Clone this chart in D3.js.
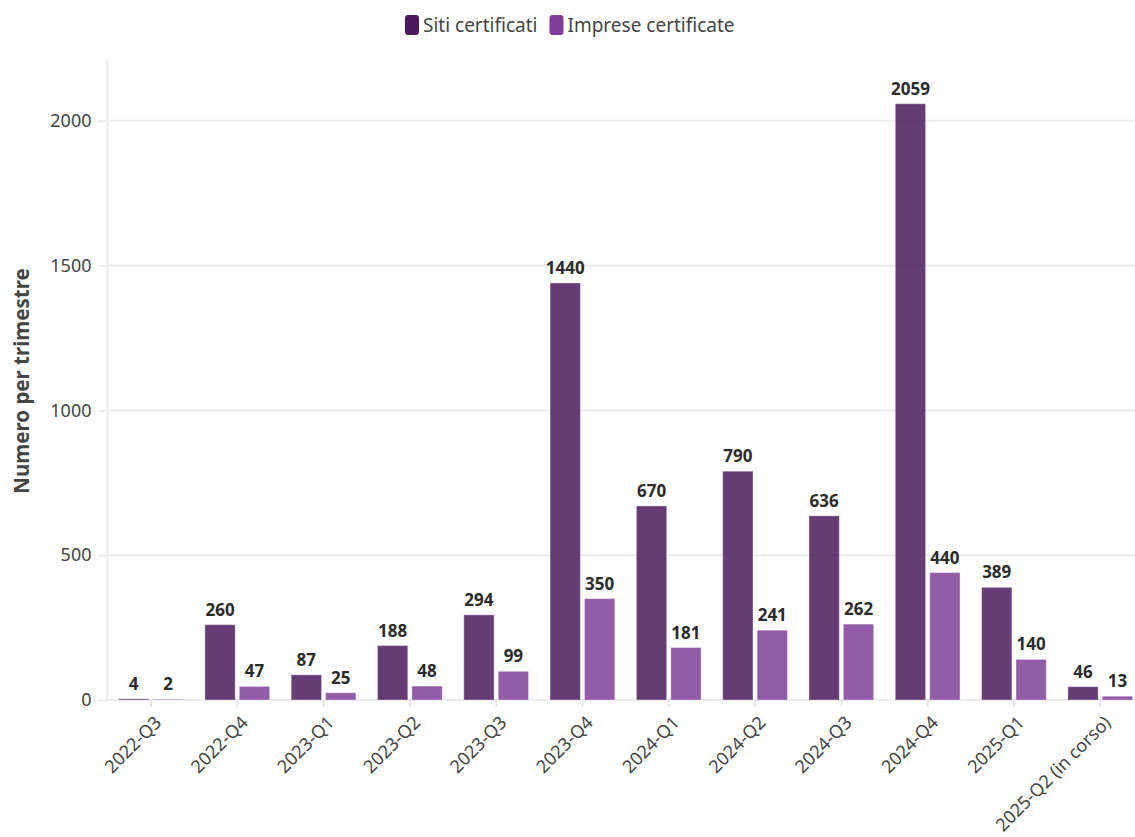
<!DOCTYPE html>
<html>
<head>
<meta charset="utf-8">
<script src="https://cdn.jsdelivr.net/npm/d3@7"></script>
<style>
  html, body { margin: 0; padding: 0; background: #fff; }
  svg { display: block; font-family: "Noto Sans", sans-serif; }
</style>
</head>
<body>
<svg id="chart" width="1135" height="837"></svg>
<script>
const categories = ["2022-Q3","2022-Q4","2023-Q1","2023-Q2","2023-Q3","2023-Q4","2024-Q1","2024-Q2","2024-Q3","2024-Q4","2025-Q1","2025-Q2 (in corso)"];
const seriesNames = ["Siti certificati", "Imprese certificate"];
const sitiValues = [4, 260, 87, 188, 294, 1440, 670, 790, 636, 2059, 389, 46];
const impreseValues = [2, 47, 25, 48, 99, 350, 181, 241, 262, 440, 140, 13];
const yTicks = [0, 500, 1000, 1500, 2000];
const colors = ["#4a1a5c", "#7f3f98"];

(function () {
const svg = d3.select("#chart");
const W = 1135, H = 837;
const mLeft = 107.5, mTop = 60, mBottom = 700;

const x = d3.scaleBand().domain(categories).range([107.8, 1143.4]).paddingInner(0.25).paddingOuter(0.125);
const sub = d3.scaleBand().domain(seriesNames).range([0, x.bandwidth()]).paddingInner(0.12);
const y = d3.scaleLinear().domain([0, 2210]).range([mBottom, mTop]);

// grid lines
svg.append("g").selectAll("line").data(yTicks).join("line")
  .attr("x1", mLeft).attr("x2", W)
  .attr("y1", d => y(d)).attr("y2", d => y(d))
  .attr("stroke", "#ececec").attr("stroke-width", 2);

// y axis line
svg.append("line").attr("x1", mLeft).attr("x2", mLeft).attr("y1", mTop).attr("y2", mBottom)
  .attr("stroke", "#ececec").attr("stroke-width", 2);

// y axis
const yAxis = svg.append("g").attr("transform", `translate(${mLeft},0)`)
  .call(d3.axisLeft(y).tickValues(yTicks).tickSize(10).tickPadding(6).tickFormat(d3.format("d")));
yAxis.select(".domain").remove();
yAxis.selectAll(".tick line").attr("stroke", "#ececec").attr("stroke-width", 2);
yAxis.selectAll(".tick text").attr("fill", "#444").style("font-size", "18px").style("font-family", "'Noto Sans', sans-serif");

// x axis
const xAxis = svg.append("g").attr("transform", `translate(0,${mBottom})`)
  .call(d3.axisBottom(x).tickSize(7).tickPadding(4));
xAxis.select(".domain").remove();
xAxis.selectAll(".tick line").attr("stroke", "#e6e6e6").attr("stroke-width", 2);
xAxis.selectAll(".tick text")
  .attr("fill", "#444").style("font-size", "18px").style("font-family", "'Noto Sans', sans-serif")
  .attr("text-anchor", "end")
  .attr("transform", "translate(-5,7) rotate(-45)")
  .attr("dy", "0.7em").attr("dx", "0");

// bars
const rows = categories.map((c, i) => ({ cat: c, vals: [sitiValues[i], impreseValues[i]] }));
const groups = svg.append("g").selectAll("g").data(rows).join("g")
  .attr("transform", d => `translate(${x(d.cat)},0)`);

groups.selectAll("rect").data(d => d.vals.map((v, j) => ({ v, s: seriesNames[j], j }))).join("rect")
  .attr("x", d => sub(d.s)).attr("width", sub.bandwidth())
  .attr("y", d => y(d.v)).attr("height", d => mBottom - y(d.v))
  .attr("fill", d => colors[d.j]).attr("fill-opacity", 0.85)
  .attr("stroke", "#fff").attr("stroke-opacity", 0.35).attr("stroke-width", 1);

groups.selectAll("text").data(d => d.vals.map((v, j) => ({ v, s: seriesNames[j], j }))).join("text")
  .attr("x", d => sub(d.s) + sub.bandwidth() / 2)
  .attr("y", d => y(d.v) - 9)
  .attr("text-anchor", "middle")
  .attr("fill", "#2b2b2b").style("font-size", "17px").style("font-weight", "bold")
  .text(d => d.v);

// y axis title
svg.append("text")
  .attr("transform", `translate(29,381) rotate(-90)`)
  .attr("text-anchor", "middle")
  .attr("fill", "#444").style("font-size", "20.5px").style("font-weight", "bold")
  .text("Numero per trimestre");

// legend
const legend = svg.append("g");
let lx = 405;
seriesNames.forEach((name, i) => {
  const g = legend.append("g").attr("transform", `translate(${lx},15)`);
  g.append("rect").attr("width", 14).attr("height", 20).attr("rx", 3).attr("fill", colors[i]);
  const t = g.append("text").attr("x", 18).attr("y", 17).attr("fill", "#444")
    .style("font-size", "19px").text(name);
  lx += 18 + t.node().getComputedTextLength() + 12;
});
})();
</script>
</body>
</html>
